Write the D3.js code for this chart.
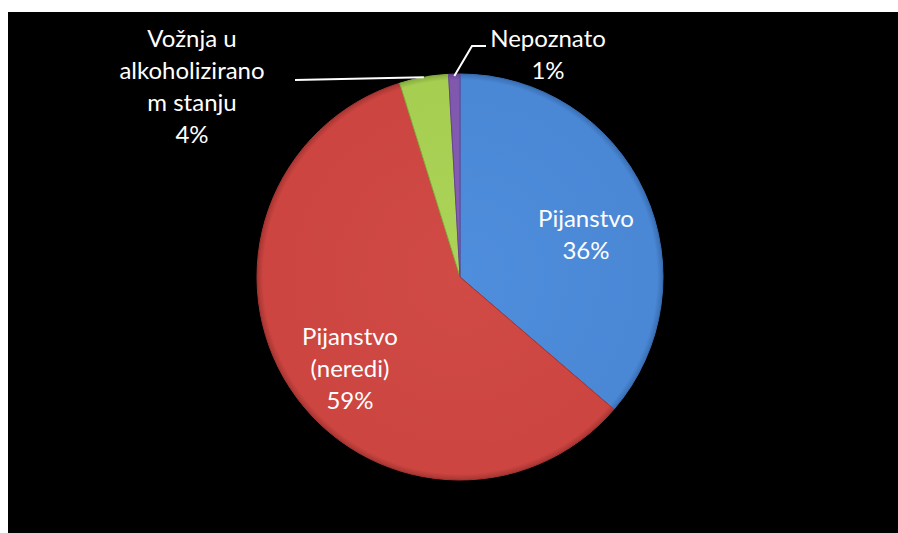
<!DOCTYPE html>
<html>
<head>
<meta charset="utf-8">
<script src="https://cdn.jsdelivr.net/npm/d3@7"></script>
<style>
  html, body { margin: 0; padding: 0; background: #ffffff; }
  svg { display: block; }
</style>
</head>
<body>
<svg id="chart" width="898" height="533"></svg>
<script>
const categories = ["Pijanstvo", "Pijanstvo (neredi)", "Vožnja u alkoholizirano m stanju", "Nepoznato"];
const labelLines = [["Pijanstvo"], ["Pijanstvo", "(neredi)"], ["Vožnja u", "alkoholizirano", "m stanju"], ["Nepoznato"]];
const values = [36.3, 58.9, 3.9, 0.9];
const colors = ["#4a88d6", "#cc4541", "#a6cf52", "#8058ae"];
const lightColors = ["#4f8edc", "#d04a46", "#acd458", "#865eb4"];
const darkColors = ["#3a6fb4", "#a83532", "#86ac3e", "#664494"];

const svg = d3.select("#chart");
svg.append("rect").attr("x", 8).attr("y", 12).attr("width", 890).attr("height", 521).attr("fill", "#000");

const cx = 460, cy = 277, r = 203;
const defs = svg.append("defs");
colors.forEach((c, i) => {
  const g = defs.append("radialGradient").attr("id", "g" + i)
    .attr("gradientUnits", "userSpaceOnUse")
    .attr("cx", 0).attr("cy", 0).attr("r", r);
  g.append("stop").attr("offset", "0%").attr("stop-color", lightColors[i]);
  g.append("stop").attr("offset", "90%").attr("stop-color", colors[i]);
  g.append("stop").attr("offset", "97%").attr("stop-color", colors[i]);
  g.append("stop").attr("offset", "100%").attr("stop-color", darkColors[i]);
});

const pie = d3.pie().sort(null).value(d => d);
const arcs = pie(values);
const arc = d3.arc().innerRadius(0).outerRadius(r);
const g = svg.append("g").attr("transform", `translate(${cx},${cy})`);
g.selectAll("path.slice").data(arcs).enter().append("path")
  .attr("class", "slice")
  .attr("d", arc)
  .attr("fill", (d, i) => `url(#g${i})`)
  .attr("stroke", (d, i) => darkColors[i])
  .attr("stroke-width", 1);

const total = d3.sum(values);
const pct = v => Math.round(v / total * 100) + "%";
const fontFamily = "Lato, 'Open Sans', sans-serif";
const fs = 24, lh = 32;

function drawLabel(x, yFirstBaseline, lines, anchor) {
  const t = svg.append("text").attr("fill", "#fff").attr("font-family", fontFamily)
    .attr("font-size", fs).attr("text-anchor", anchor || "middle");
  lines.forEach((ln, j) => {
    t.append("tspan").attr("x", x).attr("y", yFirstBaseline + j * lh).text(ln);
  });
}

// Inside labels
drawLabel(586, 227, [...labelLines[0], pct(values[0])]);
drawLabel(350, 345, [...labelLines[1], pct(values[1])]);
// Outside labels
drawLabel(192, 47, [...labelLines[2], pct(values[2])]);
drawLabel(548, 47, [...labelLines[3], pct(values[3])]);

// Leader lines
const mid2 = (arcs[2].startAngle + arcs[2].endAngle) / 2;
const p2 = [cx + Math.sin(mid2) * r, cy - Math.cos(mid2) * r];
svg.append("polyline").attr("fill", "none").attr("stroke", "#fff").attr("stroke-width", 2)
  .attr("points", `${p2[0]},${p2[1]} 295,80`);
const mid3 = (arcs[3].startAngle + arcs[3].endAngle) / 2;
const p3 = [cx + Math.sin(mid3) * (r - 2), cy - Math.cos(mid3) * (r - 2)];
svg.append("polyline").attr("fill", "none").attr("stroke", "#fff").attr("stroke-width", 2)
  .attr("points", `${p3[0]},${p3[1]} 472,46 486,46`);
</script>
</body>
</html>
